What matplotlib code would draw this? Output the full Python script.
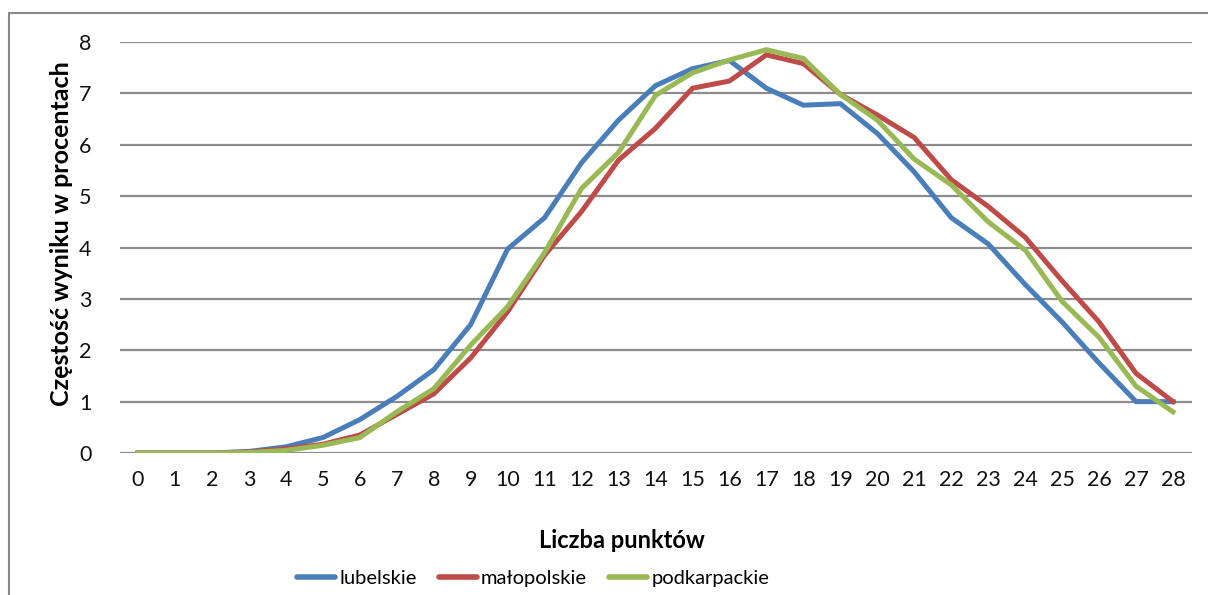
import matplotlib
matplotlib.use("Agg")
import matplotlib.pyplot as plt
from matplotlib.patches import Rectangle

points = list(range(29))
lubelskie = [0, 0, 0, 0.03, 0.12, 0.3, 0.65, 1.1, 1.62, 2.5, 3.97, 4.58, 5.65, 6.48, 7.15,
             7.48, 7.64, 7.1, 6.77, 6.8, 6.22, 5.47, 4.58, 4.07, 3.28, 2.55, 1.75, 1.0, 1.0]
malopolskie = [0, 0, 0, 0.02, 0.08, 0.17, 0.35, 0.75, 1.15, 1.85, 2.75, 3.85, 4.7, 5.7, 6.32,
               7.1, 7.24, 7.75, 7.58, 6.98, 6.58, 6.14, 5.32, 4.8, 4.2, 3.35, 2.55, 1.55, 1.0]
podkarpackie = [0, 0, 0, 0.01, 0.05, 0.15, 0.3, 0.8, 1.25, 2.1, 2.85, 3.9, 5.15, 5.85, 6.96,
                7.4, 7.65, 7.85, 7.68, 6.98, 6.48, 5.72, 5.22, 4.5, 3.95, 2.95, 2.25, 1.3, 0.8]
series_names = ["lubelskie", "małopolskie", "podkarpackie"]
colors = ["#4A7EBB", "#BE4B48", "#98B954"]
y_ticks = list(range(0, 9))

plt.rcParams['font.family'] = ['Lato', 'DejaVu Sans']

fig = plt.figure(figsize=(12.08, 5.95), dpi=100)
fig.patches.append(Rectangle((9 / 1208, -0.1), 1.2, (595 - 13) / 595 + 0.1,
                             transform=fig.transFigure, fill=False,
                             edgecolor="#888888", linewidth=1.5))

ax = fig.add_axes([119.5 / 1208, 1 - 453 / 595, (1191.5 - 119.5) / 1208, (453 - 42) / 595])
for vals, name, c in zip([lubelskie, malopolskie, podkarpackie], series_names, colors):
    ax.plot(points, vals, color=c, linewidth=3.6, label=name, solid_joinstyle='miter', zorder=3)

ax.set_xlim(-0.5, 28.5)
ax.set_ylim(0, 8)
ax.set_yticks(y_ticks)
ax.set_xticks(points)
ax.set_xticklabels([str(p) for p in points])
ax.yaxis.grid(True, color="#8C8C8C", linewidth=1.6)
ax.set_axisbelow(True)
for s in ax.spines.values():
    s.set_visible(False)
ax.tick_params(axis='both', length=0, labelsize=15.5, colors="#111111")
ax.tick_params(axis='y', pad=20)
ax.tick_params(axis='x', pad=12)

fig.text(622 / 1208, 1 - 540 / 595, "Liczba punktów", ha='center', va='center',
         fontsize=17, fontweight='bold')
fig.text(62 / 1208, 1 - 234 / 595, "Częstość wyniku w procentach", ha='center', va='center',
         fontsize=18, fontweight='bold', rotation=90)

leg = fig.legend(loc='center', bbox_to_anchor=(533 / 1208, 1 - 578 / 595), ncol=3,
                 frameon=False, fontsize=14.5, handlelength=1.9, handletextpad=0.2,
                 columnspacing=1.1)
for line in leg.get_lines():
    line.set_linewidth(4)
    line.set_solid_capstyle('round')

fig.savefig("out.png", dpi=100)
